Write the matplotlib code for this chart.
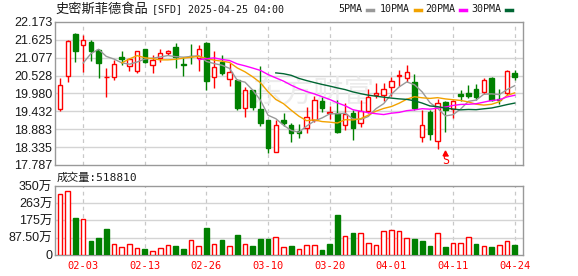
import numpy as np
import pandas as pd
import matplotlib
matplotlib.use('Agg')
import matplotlib.pyplot as plt
from matplotlib.lines import Line2D

plt.rcParams['font.family'] = ['Liberation Sans', 'Noto Sans CJK SC']

# 60 sessions 2025-01-29 .. 2025-04-24, ipo_close (01-28) only feeds the moving averages
ipo_close = 19.84
opens = [19.51, 20.53, 21.81, 21.46, 21.56, 21.30, 20.48, 20.50, 21.10, 20.81,
         20.66, 21.34, 20.84, 21.07, 21.21, 21.41, 20.88, 21.14, 21.07, 21.53,
         20.50, 20.96, 20.42, 20.38, 19.52, 20.08, 19.50, 19.16, 18.20, 19.16,
         19.01, 18.83, 18.92, 19.17, 19.74, 19.38, 19.38, 19.02, 19.38, 19.07,
         19.43, 19.94, 19.92, 20.17, 20.53, 20.45, 20.33, 18.66, 19.40, 18.51,
         19.72, 19.51, 19.96, 19.99, 20.11, 20.04, 20.45, 19.81, 19.99, 20.61]
highs = [20.45, 21.63, 21.84, 21.78, 21.63, 21.34, 20.76, 21.02, 21.29, 21.07,
         21.29, 21.35, 21.15, 21.34, 21.32, 21.53, 21.10, 21.50, 21.46, 21.56,
         21.27, 21.15, 20.91, 20.42, 20.19, 20.09, 20.83, 19.17, 19.16, 19.39,
         19.08, 19.04, 19.58, 19.89, 19.86, 19.61, 19.79, 19.68, 19.48, 19.79,
         20.11, 20.30, 20.30, 20.50, 20.69, 20.84, 20.58, 19.48, 19.48, 19.82,
         19.74, 19.79, 20.09, 20.25, 20.27, 20.45, 20.50, 20.12, 20.71, 20.71]
lows = [19.45, 20.32, 20.96, 20.63, 20.99, 20.47, 19.88, 20.38, 20.86, 20.68,
        20.61, 20.93, 20.61, 20.94, 21.15, 20.76, 20.53, 20.88, 20.68, 20.09,
        20.15, 20.56, 20.20, 19.48, 19.26, 19.47, 18.99, 18.16, 18.19, 18.98,
        18.50, 18.63, 18.78, 19.12, 19.40, 19.19, 18.76, 18.87, 18.56, 18.94,
        19.38, 19.84, 19.76, 19.89, 20.20, 20.33, 19.48, 18.49, 18.56, 18.28,
        18.81, 19.22, 19.76, 19.84, 19.77, 19.96, 19.74, 19.65, 19.94, 20.40]
closes = [20.25, 21.58, 21.29, 21.61, 21.27, 20.93, 20.49, 20.88, 21.04, 21.05,
          21.27, 20.94, 21.02, 21.22, 21.27, 21.10, 20.86, 21.13, 21.35, 20.37,
          20.78, 20.61, 20.64, 19.53, 20.08, 19.57, 19.06, 18.32, 19.01, 19.08,
          18.77, 18.77, 19.27, 19.79, 19.55, 19.40, 18.79, 19.35, 18.92, 19.45,
          19.86, 19.99, 20.12, 20.37, 20.56, 20.64, 19.55, 19.02, 18.73, 19.68,
          19.48, 19.74, 19.90, 19.90, 19.87, 20.38, 19.79, 19.79, 20.66, 20.48]
# volume in 万股
volumes = [309, 325, 189, 183, 73, 88, 134, 56, 41, 56,
           36, 32, 20, 36, 49, 46, 32, 76, 46, 139,
           56, 76, 46, 101, 56, 46, 83, 83, 91, 41,
           46, 30, 51, 51, 25, 56, 203, 96, 113, 110,
           59, 51, 122, 127, 122, 85, 81, 71, 46, 110,
           41, 59, 59, 90, 56, 46, 41, 49, 71, 51.881]

date_ticks = [3, 11, 19, 27, 35, 43, 51, 59]
date_labels = ['02-03', '02-13', '02-26', '03-10', '03-20', '04-01', '04-11', '04-24']
price_ticks = [17.787, 18.335, 18.883, 19.432, 19.980, 20.528, 21.077, 21.625, 22.173]
vol_ticks = [0, 87.5, 175, 262.5, 350]
vol_labels = ['0', '87.50万', '175万', '263万', '350万']
ma_periods = [5, 10, 20, 30]
ma_names = ['5PMA', '10PMA', '20PMA', '30PMA']
ma_colors = ['#999999', '#f2a200', '#ff00ff', '#006633']
last_volume = 518810
split_day = 50

RED = '#ff0000'
GREEN = '#008000'
GRID = '#d4d4d4'
FRAME = '#999999'
MONO = ['DejaVu Sans Mono', 'Noto Sans CJK SC']

o = np.array(opens)
h = np.array(highs)
l = np.array(lows)
c = np.array(closes)
v = np.array(volumes)
x = np.arange(len(c))

fig = plt.figure(figsize=(5.78, 2.76), dpi=100)
ax = fig.add_axes([0.0952, 0.4022, 0.8091, 0.5181])
axv = fig.add_axes([0.0952, 0.0761, 0.8091, 0.25])

for a in (ax, axv):
    a.set_xlim(-0.65, 60.04)
    for s in a.spines.values():
        s.set_color(FRAME)
        s.set_linewidth(1)
    for t in date_ticks:
        a.axvline(t, color='#c8c8c8', lw=0.9, ls=(0, (3, 3)), zorder=0)
    a.tick_params(length=0, labelsize=9, colors='#1a1a1a')

# price panel
ax.set_ylim(price_ticks[0], price_ticks[-1])
ax.set_yticks(price_ticks)
ax.set_yticklabels(['%.3f' % p for p in price_ticks])
ax.tick_params(axis='y', pad=2)
ax.set_xticks([])
for p in price_ticks[1:-1]:
    ax.axhline(p, color=GRID, lw=1, zorder=0)

ax.text(0.554, 0.50, '东方财富', transform=ax.transAxes, ha='center', va='center',
        fontsize=22, color='#ececec', family='Noto Sans CJK SC', zorder=0)

up = c >= o
col = np.where(up, RED, GREEN)
ax.vlines(x, l, h, colors=col, lw=1, zorder=2)
body_lo = np.minimum(o, c)
body_h = np.maximum(np.abs(c - o), 0.012)
ax.bar(x, body_h, 0.58, bottom=body_lo, color=np.where(up, 'white', GREEN),
       edgecolor=col, lw=1, zorder=3)

full_close = pd.Series([ipo_close] + closes)
for p, mc in zip(ma_periods, ma_colors):
    ma = full_close.rolling(p).mean().values[1:]
    ax.plot(x, ma, color=mc, lw=1, zorder=4)

ax.plot(split_day, 18.165, marker='^', ms=3.5, color=RED, zorder=5)
ax.text(split_day, 17.94, 'S', color=RED, ha='center', va='center',
        fontsize=8.5, family=MONO, zorder=5)

# volume panel
prev = np.r_[ipo_close, c[:-1]]
vup = c >= prev
vcol = np.where(vup, RED, GREEN)
axv.bar(x, v, 0.6, color=np.where(vup, 'white', GREEN), edgecolor=vcol, lw=1, zorder=3)
axv.set_ylim(0, 350)
axv.set_yticks(vol_ticks)
axv.set_yticklabels(vol_labels)
axv.tick_params(axis='y', pad=2)
for t in vol_ticks[1:-1]:
    axv.axhline(t, color=GRID, lw=1, zorder=0)
axv.set_xticks(date_ticks)
axv.set_xticklabels(date_labels, color=RED, family=MONO, fontsize=7.5)
axv.tick_params(axis='x', pad=4.5)

# header texts
fig.text(55 / 578, 1 - 9 / 276, '史密斯菲德食品', family='Noto Sans CJK SC', fontsize=9.5,
         va='center', ha='left', color='#1a1a1a')
fig.text(152 / 578, 1 - 9 / 276, '[SFD] 2025-04-25 04:00', family=MONO, fontsize=7.2,
         va='center', ha='left', color='#1a1a1a')
fig.text(57 / 578, 1 - 177.5 / 276, '成交量:%d' % last_volume, family=MONO, fontsize=8,
         va='center', ha='left', color='#1a1a1a')

leg_x = [338.7, 380, 425.3, 471]
for name, mc, lx in zip(ma_names, ma_colors, leg_x):
    fig.text(lx / 578, 1 - 9 / 276, name, family=MONO, fontsize=7.2,
             va='center', ha='left', color='#1a1a1a')
    sx = lx + 6.3 * len(name) + 3
    fig.add_artist(Line2D([sx / 578, (sx + 6) / 578], [1 - 10 / 276, 1 - 10 / 276],
                          color=mc, lw=2.5, transform=fig.transFigure))

fig.savefig('out.png', dpi=100)
